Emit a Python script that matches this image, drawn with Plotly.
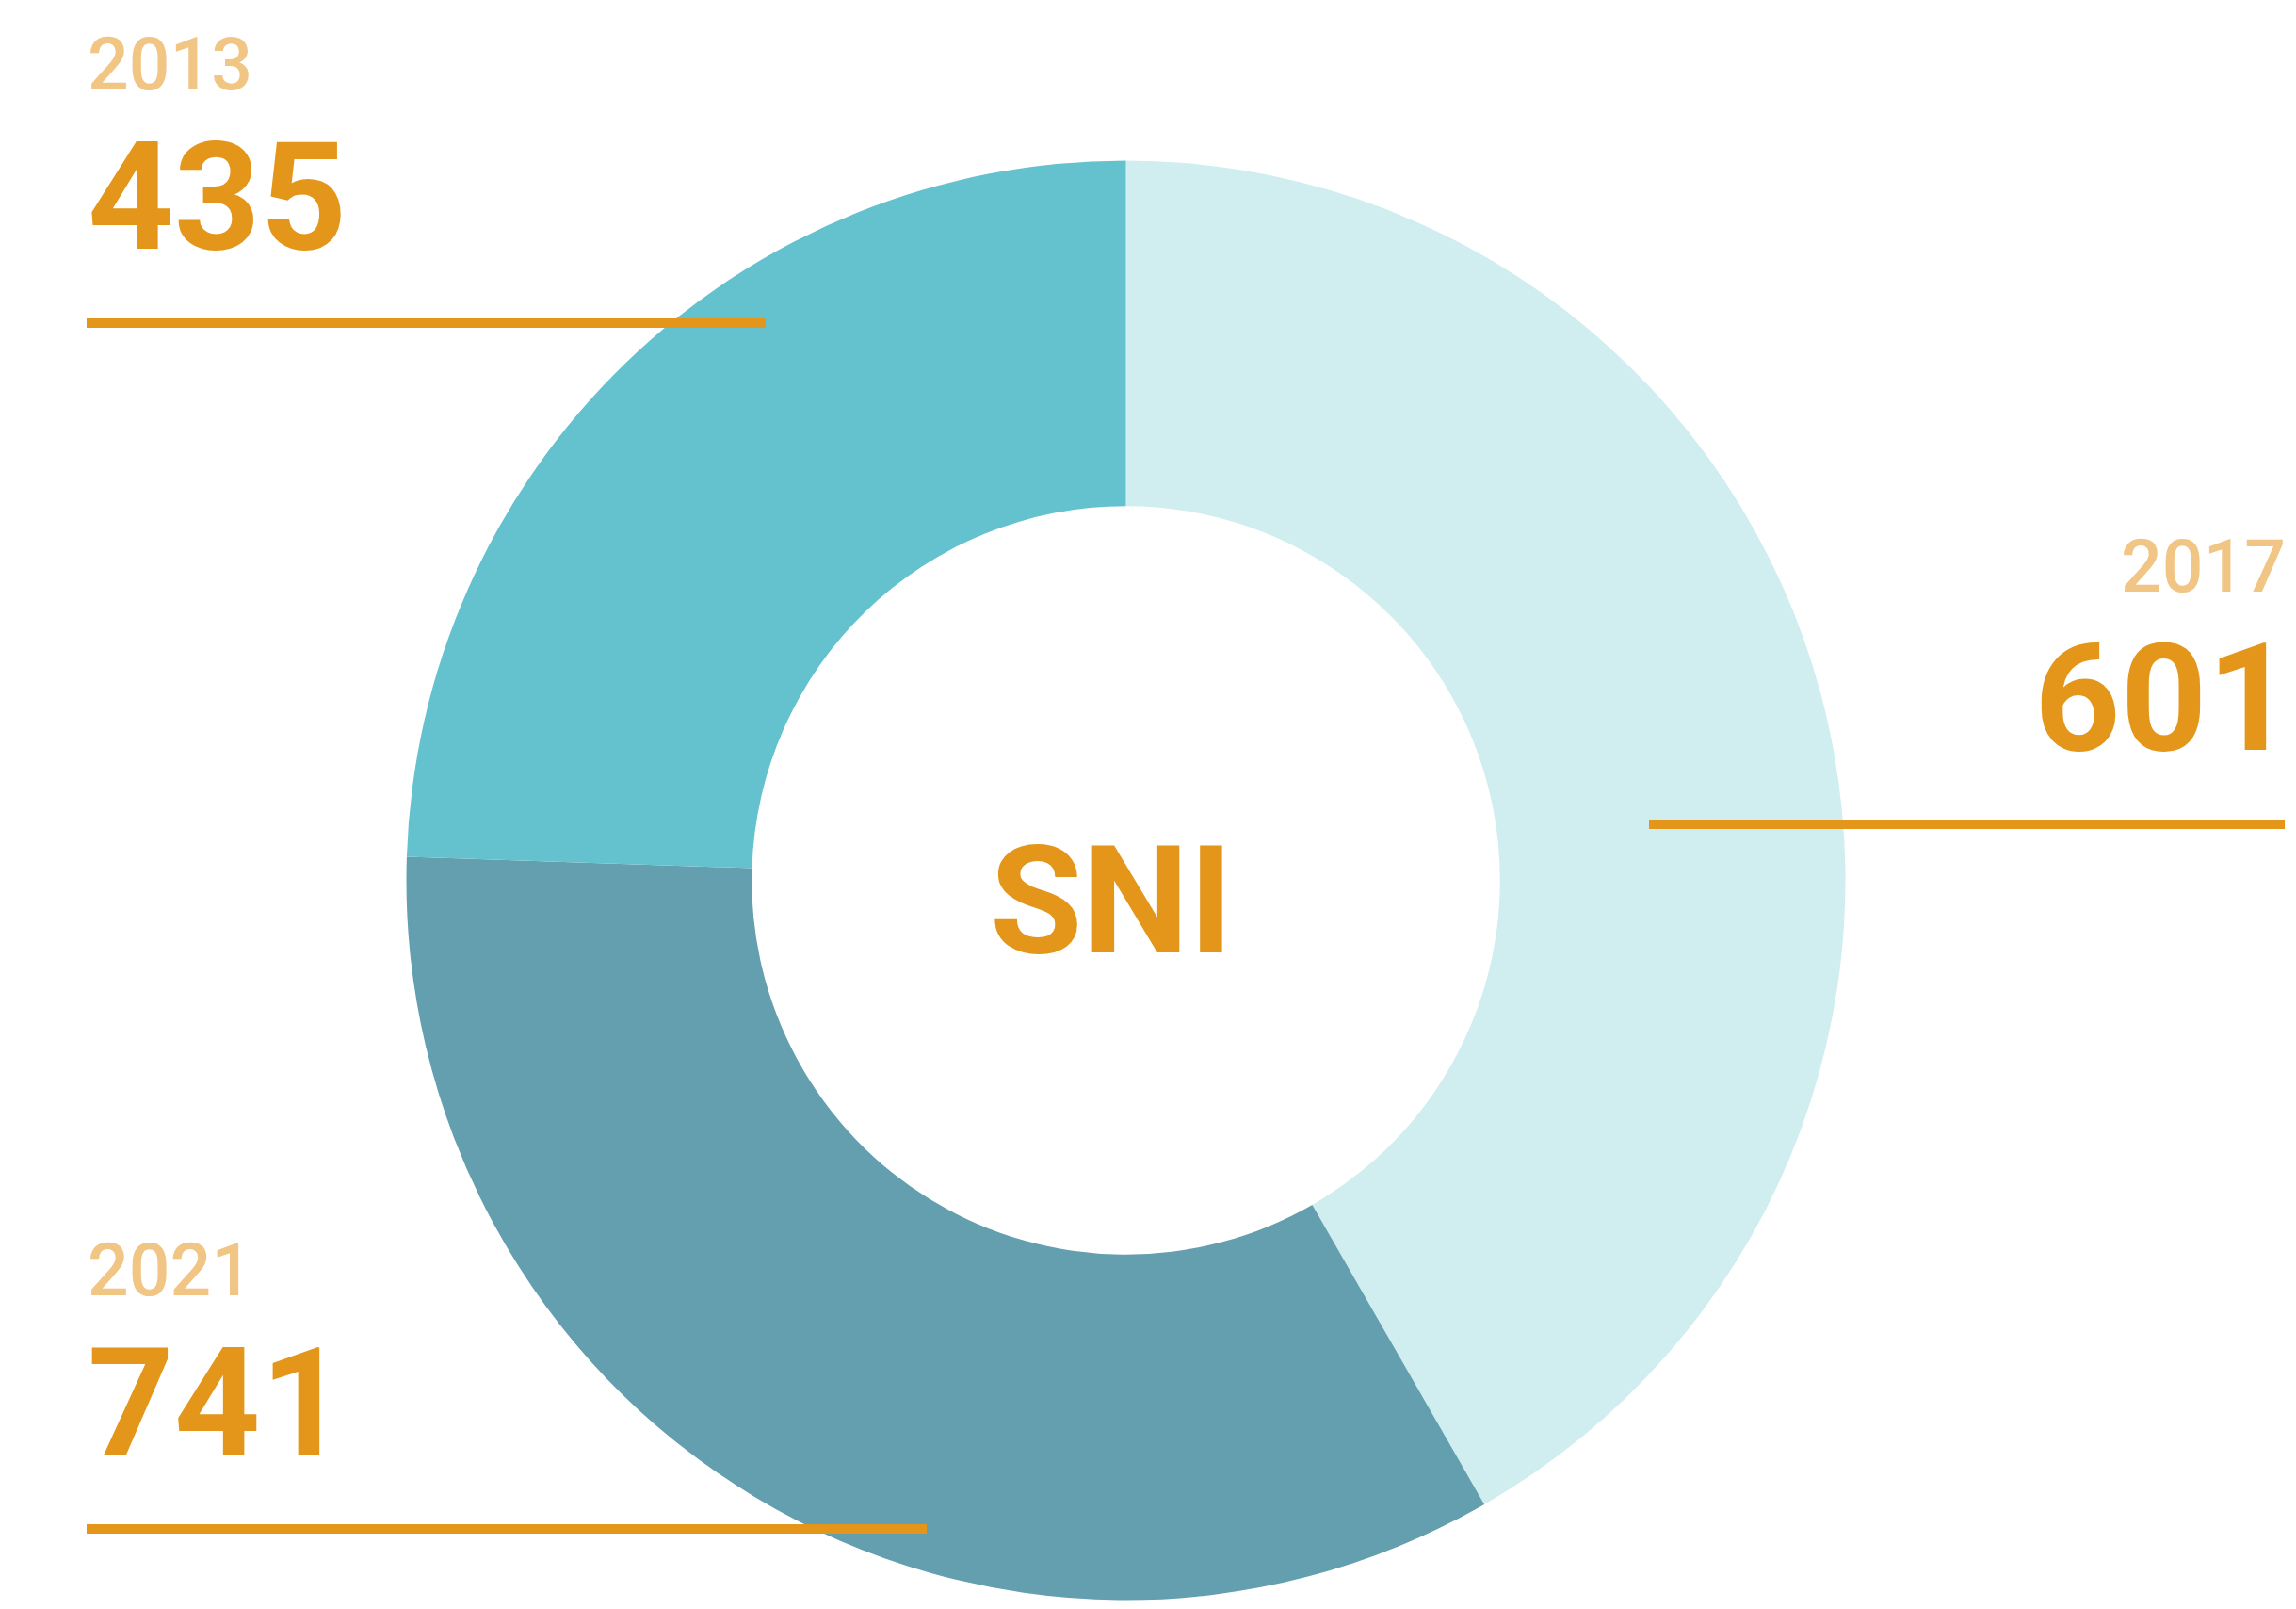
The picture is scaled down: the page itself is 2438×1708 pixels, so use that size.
import plotly.graph_objects as go

# Data
years = ["2013", "2017", "2021"]
values = [435, 601, 741]
slice_colors = ["#64C1CE", "#649FAF", "#D0EDEF"]
center_label = "SNI"

ORANGE = "#E3961A"
YEAR_COLOR = "#F1C584"
W, H = 2438, 1708

fig = go.Figure()

# Slices run clockwise from 12 o'clock: 2021, 2017, 2013
fig.add_trace(go.Pie(
    labels=years[::-1],
    values=values[::-1],
    hole=0.52,
    sort=False,
    direction="clockwise",
    rotation=0,
    marker=dict(colors=slice_colors[::-1], line=dict(width=0)),
    textinfo="none",
    hoverinfo="label+value",
    domain=dict(x=[0.17699, 0.80373], y=[0.00556, 0.90018]),
))

# Label blocks: (year, value, x, value_x, anchor, year_y, value_y, line_y, line_x0, line_x1)
label_layout = [
    (years[0], values[0], 92 / W, 92 / W, "left", 0.95960, 0.87705, 0.7992, 92 / W, 813 / W),
    (years[1], values[1], 2428 / W, 2436 / W, "right", 0.64772, 0.56593, 0.4877, 1751 / W, 2426 / W),
    (years[2], values[2], 92 / W, 92 / W, "left", 0.21037, 0.12799, 0.0498, 92 / W, 984 / W),
]

annotations = []
shapes = []
for yr, val, x, vx, anchor, y_year, y_val, y_line, lx0, lx1 in label_layout:
    annotations.append(dict(
        text=yr, x=x, y=y_year, xref="paper", yref="paper",
        xanchor=anchor, yanchor="middle", showarrow=False, borderpad=0,
        font=dict(family="Roboto", size=77, color=YEAR_COLOR, weight=500),
    ))
    annotations.append(dict(
        text=str(val), x=vx, y=y_val, xref="paper", yref="paper",
        xanchor=anchor, yanchor="middle", showarrow=False, borderpad=0,
        font=dict(family="Roboto", size=160, color=ORANGE, weight=700),
    ))
    shapes.append(dict(
        type="line", xref="paper", yref="paper",
        x0=lx0, x1=lx1, y0=y_line, y1=y_line,
        line=dict(color=ORANGE, width=10), layer="above",
    ))

annotations.append(dict(
    text=center_label, x=1180 / W, y=0.4400, xref="paper", yref="paper",
    xanchor="center", yanchor="middle", showarrow=False, borderpad=0,
    font=dict(family="Roboto", size=160, color=ORANGE, weight=700),
))

fig.update_layout(
    width=W, height=H,
    margin=dict(l=0, r=0, t=0, b=0),
    paper_bgcolor="white",
    plot_bgcolor="white",
    showlegend=False,
    annotations=annotations,
    shapes=shapes,
)

fig.write_html("out.html")
